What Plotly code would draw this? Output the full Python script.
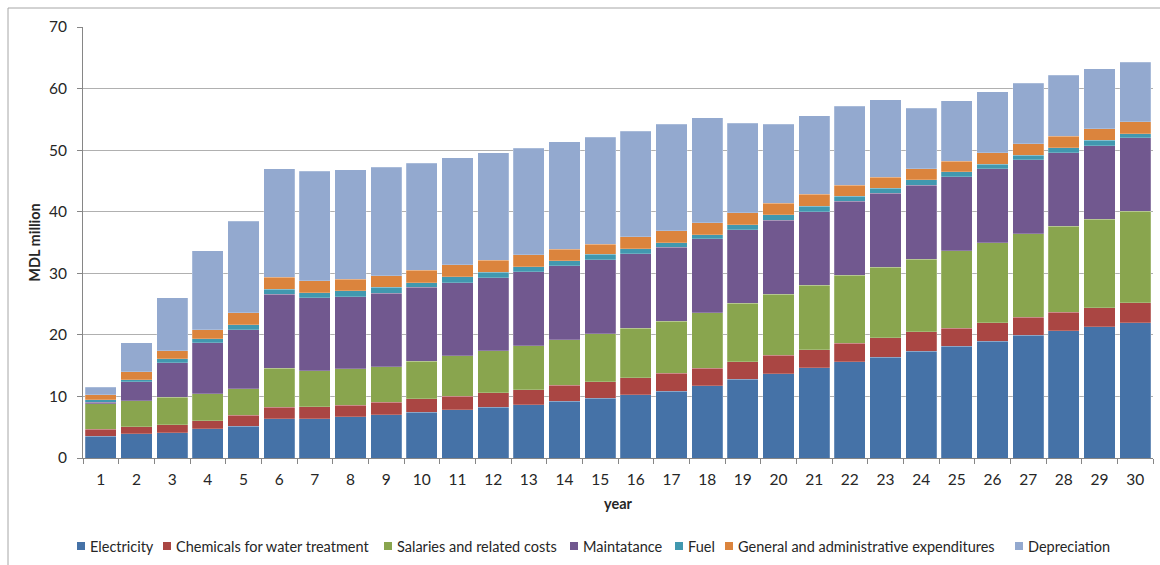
import plotly.graph_objects as go

years = [str(y) for y in range(1, 31)]

electricity = [3.52, 3.96, 4.12, 4.72, 5.15, 6.34, 6.34, 6.72, 7.05, 7.43,
               7.86, 8.24, 8.67, 9.24, 9.68, 10.30, 10.86, 11.73, 12.76, 13.70,
               14.65, 15.60, 16.40, 17.35, 18.16, 18.97, 19.90, 20.65, 21.30, 21.95]
chemicals = [1.18, 1.14, 1.30, 1.35, 1.79, 1.90, 1.96, 1.84, 2.00, 2.17,
             2.17, 2.33, 2.43, 2.54, 2.70, 2.70, 2.87, 2.87, 2.84, 3.00,
             2.95, 3.00, 3.10, 3.15, 2.94, 2.98, 3.00, 3.05, 3.10, 3.25]
salaries = [4.13, 4.20, 4.44, 4.39, 4.28, 6.34, 5.90, 5.91, 5.80, 6.12,
            6.57, 6.88, 7.10, 7.46, 7.82, 8.10, 8.47, 9.00, 9.50, 9.90,
            10.45, 11.10, 11.50, 11.80, 12.60, 13.02, 13.55, 13.90, 14.35, 14.85]
maintenance = [0.22, 3.06, 5.64, 8.24, 9.65, 11.98, 11.80, 11.76, 11.93, 11.98,
               11.90, 11.85, 12.04, 12.00, 12.00, 12.10, 12.00, 12.00, 12.00, 12.05,
               11.95, 12.00, 12.00, 12.00, 12.00, 12.03, 11.95, 12.00, 11.95, 11.93]
fuel = [0.45, 0.34, 0.60, 0.65, 0.81, 0.87, 0.80, 0.92, 0.92, 0.80,
        0.93, 0.90, 0.86, 0.81, 0.90, 0.80, 0.80, 0.70, 0.80, 0.85,
        0.90, 0.80, 0.80, 0.90, 0.80, 0.70, 0.75, 0.80, 0.90, 0.72]
general_admin = [0.80, 1.30, 1.35, 1.52, 1.90, 1.95, 2.00, 1.90, 1.90, 1.96,
                 1.97, 1.90, 1.90, 1.85, 1.60, 1.90, 1.90, 1.90, 1.90, 1.90,
                 1.90, 1.80, 1.80, 1.80, 1.70, 1.90, 1.85, 1.85, 1.90, 1.90]
depreciation = [1.20, 4.70, 8.55, 12.79, 14.85, 17.56, 17.80, 17.75, 17.60, 17.44,
                17.40, 17.50, 17.30, 17.45, 17.40, 17.20, 17.30, 17.10, 14.60, 12.80,
                12.80, 12.80, 12.60, 9.80, 9.85, 9.90, 9.90, 9.95, 9.75, 9.70]

series_names = ["Electricity", "Chemicals for water treatment", "Salaries and related costs",
                "Maintatance", "Fuel", "General and administrative expenditures", "Depreciation"]
series_values = [electricity, chemicals, salaries, maintenance, fuel, general_admin, depreciation]
series_colors = ["#4572A7", "#AA4643", "#89A54E", "#71588F", "#4198AF", "#DB843D", "#93A9CF"]

FONT = "Lato, Liberation Sans, Arial, sans-serif"
TEXT = "#262626"

W, H = 1160, 565
ML, MR, MT, MB = 83, 7, 27, 107
PW, PH = W - ML - MR, H - MT - MB


def px_x(px):
    """pixel column -> paper x"""
    return (px - ML) / PW


def px_y(py):
    """pixel row -> paper y"""
    return (H - MB - py) / PH


fig = go.Figure()
for name, vals, color in zip(series_names, series_values, series_colors):
    fig.add_trace(go.Bar(
        x=years, y=vals, name=name, showlegend=False,
        marker=dict(color=color, line=dict(color="rgba(255,255,255,0.35)", width=0.6)),
    ))

# single-row legend along the bottom: colour square followed by its label
legend_left = [77, 163, 384, 570, 675, 725, 1015]
legend_mid = 546
sq = 8
shapes = []
annotations = []
for name, color, lx in zip(series_names, series_colors, legend_left):
    shapes.append(dict(
        type="rect", xref="paper", yref="paper",
        x0=px_x(lx), x1=px_x(lx + sq),
        y0=px_y(legend_mid + sq / 2), y1=px_y(legend_mid - sq / 2),
        line=dict(width=0), fillcolor=color,
    ))
    annotations.append(dict(
        text=name, xref="paper", yref="paper",
        x=px_x(lx + sq + 3), y=px_y(legend_mid),
        xanchor="left", yanchor="middle", showarrow=False,
        font=dict(family=FONT, size=14.5, color=TEXT),
    ))

# outer chart frame
shapes.append(dict(
    type="rect", xref="paper", yref="paper",
    x0=px_x(8), x1=px_x(W + 20), y0=px_y(H + 20), y1=px_y(8),
    line=dict(color="#a6a6a6", width=1), fillcolor="rgba(0,0,0,0)", layer="below",
))

fig.update_layout(
    barmode="stack",
    bargap=0.13,
    width=W, height=H,
    margin=dict(l=ML, r=MR, t=MT, b=MB, autoexpand=False),
    paper_bgcolor="white",
    plot_bgcolor="white",
    font=dict(family=FONT, color=TEXT, size=14),
    showlegend=False,
    xaxis=dict(
        type="category",
        tickson="boundaries",
        ticks="outside", ticklen=5, tickcolor="#868686",
        showline=True, linecolor="#868686", linewidth=1,
        tickfont=dict(size=15.5),
        ticklabelstandoff=7,
        title=dict(text="<b>year</b>", font=dict(size=14.5), standoff=12),
        automargin=False,
    ),
    yaxis=dict(
        range=[0, 70], dtick=10,
        ticks="outside", ticklen=5, tickcolor="#868686",
        showline=True, linecolor="#868686", linewidth=1,
        showgrid=True, gridcolor="#b0b0b0", gridwidth=1,
        zeroline=False,
        tickfont=dict(size=15.5),
        ticklabelstandoff=7,
        title=dict(text="<b>MDL million</b>", font=dict(size=14.5), standoff=4),
        automargin=False,
    ),
    shapes=shapes,
    annotations=annotations,
)

fig.write_html("out.html")
